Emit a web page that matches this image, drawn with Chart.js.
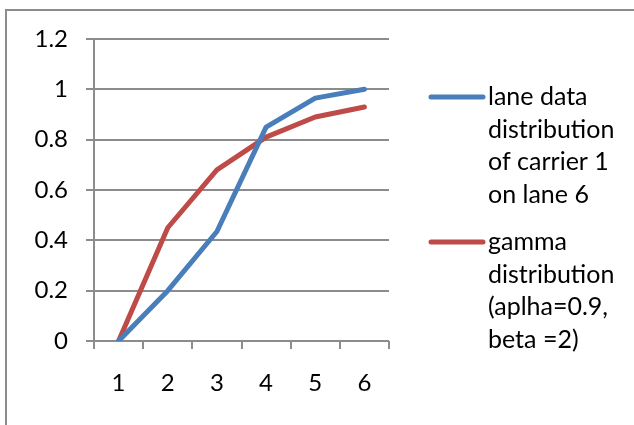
<!DOCTYPE html>
<html>
<head>
<meta charset="utf-8">
<script src="https://cdn.jsdelivr.net/npm/chart.js@4.4.1/dist/chart.umd.min.js"></script>
<style>
  body { margin: 0; background: #fff; overflow: hidden; }
  #wrap { position: relative; width: 634px; height: 425px; }
  #frame { position: absolute; left: 5px; top: 9px; width: 700px; height: 500px; border: 2px solid #8c8c8c; box-sizing: border-box; }
  canvas { position: absolute; left: 0; top: 0; }
</style>
</head>
<body>
<div id="wrap">
  <div id="frame"></div>
  <canvas id="lineChart" width="634" height="425"></canvas>
</div>
<script>
var categories = ["1", "2", "3", "4", "5", "6"];
var laneData = [0, 0.2, 0.435, 0.85, 0.965, 1.0];
var gammaData = [0, 0.45, 0.68, 0.81, 0.89, 0.93];
var laneLabel = ["lane data", "distribution", "of carrier 1", "on lane 6"];
var gammaLabel = ["gamma", "distribution", "(aplha=0.9,", "beta =2)"];
var yTicks = [0, 0.2, 0.4, 0.6, 0.8, 1, 1.2];

var fontFamily = "Lato, 'Liberation Sans', sans-serif";
var gridColor = "#8c8c8c";

// legend with wrapped labels, drawn to the right of the plot
var sideLegend = {
    id: "sideLegend",
    afterDraw: function (chart) {
        var ctx = chart.ctx;
        var area = chart.chartArea;
        var x0 = area.right + 42;
        var blockTop = [area.top + 58, area.top + 203];
        ctx.save();
        ctx.font = "25px " + fontFamily;
        ctx.textBaseline = "middle";
        ctx.fillStyle = "#000";
        chart.data.datasets.forEach(function (ds, i) {
            var y = blockTop[i];
            ctx.strokeStyle = ds.borderColor;
            ctx.lineWidth = 5;
            ctx.lineCap = "round";
            ctx.beginPath();
            ctx.moveTo(x0, y);
            ctx.lineTo(x0 + 52, y);
            ctx.stroke();
            ds.label.forEach(function (line, j) {
                ctx.fillText(line, x0 + 57, y + j * 32.6);
            });
        });
        ctx.restore();
    }
};

var ctx = document.getElementById("lineChart").getContext("2d");
var chart = new Chart(ctx, {
    type: "line",
    data: {
        labels: categories,
        datasets: [{
            label: laneLabel,
            data: laneData,
            borderColor: "#4a7ebb",
            borderWidth: 5,
            pointRadius: 0,
            borderCapStyle: "round",
            borderJoinStyle: "round",
            tension: 0
        }, {
            label: gammaLabel,
            data: gammaData,
            borderColor: "#be4b48",
            borderWidth: 5,
            pointRadius: 0,
            borderCapStyle: "round",
            borderJoinStyle: "round",
            tension: 0
        }]
    },
    options: {
        responsive: false,
        animation: false,
        devicePixelRatio: 1,
        layout: { padding: { left: 0, right: 245, top: 39, bottom: 0 } },
        plugins: {
            legend: { display: false },
            tooltip: { enabled: false }
        },
        scales: {
            x: {
                offset: true,
                grid: {
                    offset: true,
                    drawOnChartArea: false,
                    drawTicks: true,
                    tickLength: 8,
                    color: gridColor,
                    lineWidth: 2
                },
                border: { display: false },
                ticks: {
                    color: "#000",
                    padding: 20,
                    font: { family: fontFamily, size: 24 }
                },
                afterFit: function (scale) { scale.height = 84; }
            },
            y: {
                min: 0,
                max: 1.2,
                afterBuildTicks: function (scale) {
                    scale.ticks = yTicks.map(function (v) { return { value: v }; });
                },
                grid: {
                    tickLength: 8,
                    color: gridColor,
                    lineWidth: 2
                },
                border: { display: true, color: gridColor, width: 2 },
                ticks: {
                    color: "#000",
                    padding: 18,
                    font: { family: fontFamily, size: 24 },
                    callback: function (v) { return String(Math.round(v * 10) / 10); }
                },
                afterFit: function (scale) { scale.width = 94; }
            }
        }
    },
    plugins: [sideLegend]
});
</script>
</body>
</html>
